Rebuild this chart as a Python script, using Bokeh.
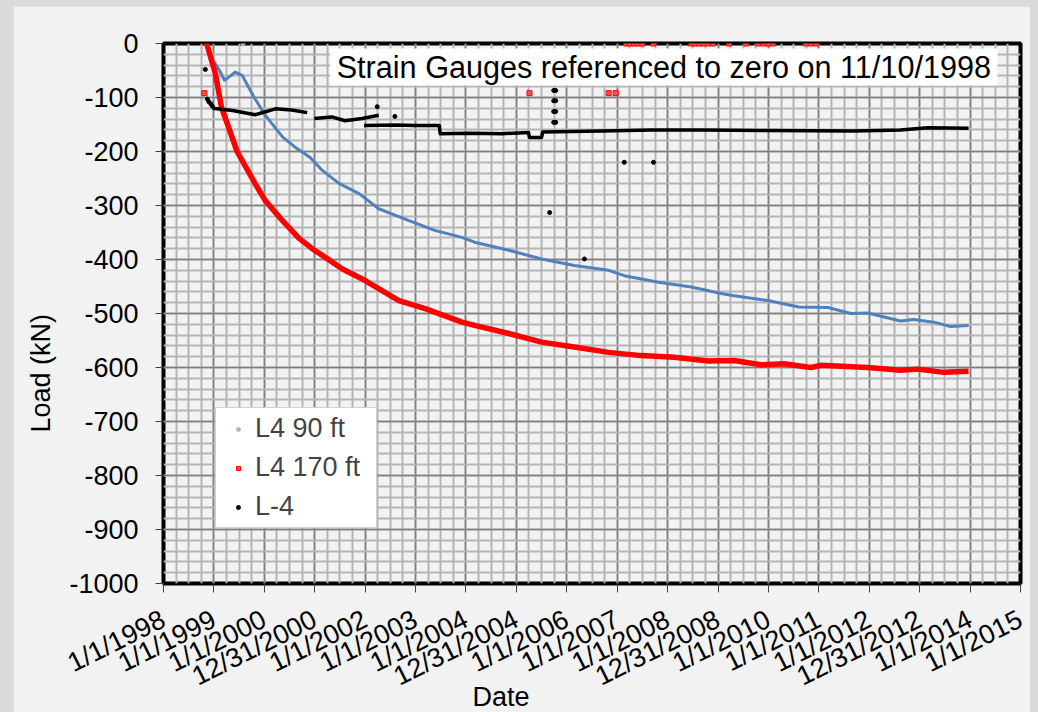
from bokeh.plotting import figure
from bokeh.models import FixedTicker, Label, Legend, LegendItem, BoxAnnotation, Title
from bokeh.layouts import column
from bokeh.embed import file_html
from bokeh.resources import INLINE

nan = float("nan")

# ---------------- data ----------------
x_tick_years = list(range(1998, 2016))
x_tick_labels = ["1/1/1998", "1/1/1999", "1/1/2000", "12/31/2000", "1/1/2002", "1/1/2003",
                 "1/1/2004", "12/31/2004", "1/1/2006", "1/1/2007", "1/1/2008", "12/31/2008",
                 "1/1/2010", "1/1/2011", "1/1/2012", "12/31/2012", "1/1/2014", "1/1/2015"]
y_ticks = [0, -100, -200, -300, -400, -500, -600, -700, -800, -900, -1000]
y_tick_labels = ["0", "-100", "-200", "-300", "-400", "-500", "-600", "-700", "-800", "-900", "-1000"]

# L4 90 ft (blue)
l4_90_year = [1999.01, 1999.11, 1999.21, 1999.33, 1999.42, 1999.56, 1999.80, 2000.02, 2000.36,
              2000.61, 2000.91, 2001.15, 2001.48, 2001.88, 2002.27, 2002.87, 2003.38, 2003.92,
              2004.17, 2004.85, 2005.50, 2006.15, 2006.83, 2007.14, 2007.82, 2008.47, 2009.06,
              2009.32, 2009.99, 2010.60, 2011.18, 2011.64, 2011.97, 2012.62, 2012.88, 2013.28,
              2013.61, 2013.97]
l4_90_load = [-35, -50, -68, -60, -53, -59, -100, -133, -173,
              -192, -211, -235, -259, -278, -306, -328, -346, -359,
              -368, -383, -399, -411, -420, -430, -442, -451, -463,
              -467, -476, -488, -489, -500, -499, -514, -511, -516,
              -524, -522]
l4_90_pt_year = [1999.58]
l4_90_pt_load = [0]

# L4 170 ft (red)
l4_170_year = [1998.81, 1999.03, 1999.15, 1999.46, 1999.82, 2000.02, 2000.36, 2000.69, 2000.95,
               2001.21, 2001.54, 2002.00, 2002.67, 2003.19, 2003.92, 2004.17, 2004.85, 2005.50,
               2006.15, 2006.83, 2007.48, 2008.13, 2008.81, 2009.32, 2009.85, 2010.31, 2010.84,
               2011.04, 2011.97, 2012.62, 2012.96, 2013.48, 2013.97]
l4_170_load = [15, -56, -118, -200, -260, -291, -328, -361, -380,
               -396, -417, -439, -476, -491, -516, -522, -537, -553,
               -562, -572, -578, -581, -588, -587, -595, -593, -600,
               -596, -600, -605, -603, -609, -607]
l4_170_pt_year = [1998.81, 2005.26, 2006.83, 2006.97, 2007.18, 2007.26, 2007.34, 2007.42, 2007.50,
                  2007.72, 2008.47, 2008.55, 2008.63, 2008.71, 2008.80, 2008.90, 2009.22, 2009.56,
                  2009.80, 2009.91, 2010.00, 2010.09, 2010.74, 2010.84, 2010.94]
l4_170_pt_load = [-92, -92, -92, -92, 0, 0, 0, 0, 0,
                  0, 0, 0, 0, 0, 0, 0, 0, 0,
                  0, 0, 0, 0, 0, 0, 0]

# L-4 (black)
l_4_year = [1998.97, 1999.37, 1999.82, 2000.22, 2000.54, 2000.85, nan,
            2000.99, 2001.34, 2001.60, 2001.94, 2002.27, nan,
            2001.98, 2002.60, 2003.00, 2003.47, 2003.49, 2004.07, 2004.72, 2005.24, 2005.26,
            2005.50, 2005.52, 2006.69, 2007.68, 2008.67, 2009.99, 2011.69, 2012.62, 2013.16, 2013.97]
l_4_load = [-120, -124, -132, -121, -123, -128, nan,
            -139, -136, -143, -139, -133, nan,
            -152, -151, -152, -152, -167, -166, -167, -165, -174,
            -174, -164, -162, -160, -160, -161, -162, -160, -156, -157]
l_4_pt_year = [1998.83, 1998.87, 1998.90, 1998.94, 1998.97, 2002.24, 2002.59,
               2005.74, 2005.76, 2005.78, 2005.74, 2005.76, 2005.78, 2005.74, 2005.76, 2005.78,
               2005.74, 2005.76, 2005.78, 2005.66, 2006.35, 2007.14, 2007.72]
l_4_pt_load = [-48, -103, -108, -112, -116, -117, -135,
               -87, -87, -87, -106, -106, -106, -126, -126, -126,
               -146, -146, -146, -313, -399, -220, -220]

FONT = "Liberation Sans"

p = figure(width=1017, height=706, x_range=(1998, 2015), y_range=(-1000, 0),
           output_backend="svg", toolbar_location=None,
           min_border_left=148, min_border_right=10, min_border_top=37, min_border_bottom=129,
           background_fill_color="#f2f2f2", border_fill_color="#f2f2f2")
p.margin = (6, 8, 0, 13)

# ticks & grid
p.xaxis.ticker = FixedTicker(ticks=x_tick_years,
                             minor_ticks=[1998 + i * 0.25 for i in range(69)])
p.xaxis.major_label_overrides = {y: l for y, l in zip(x_tick_years, x_tick_labels)}
p.yaxis.ticker = FixedTicker(ticks=y_ticks, minor_ticks=list(range(-1000, 1, 20)))
p.yaxis.major_label_overrides = {v: l for v, l in zip(y_ticks, y_tick_labels)}

for ax in (p.xaxis, p.yaxis):
    ax.axis_line_color = None
    ax.major_tick_line_color = "#404040"
    ax.major_tick_line_width = 1
    ax.major_tick_in = 0
    ax.minor_tick_line_color = None
    ax.major_label_text_font = FONT
    ax.major_label_text_font_size = "27px"
    ax.major_label_text_color = "black"
p.yaxis.major_tick_out = 8
p.yaxis.major_label_standoff = 17
p.xaxis.major_tick_out = 9
p.xaxis.major_label_standoff = 25
p.xaxis.major_label_orientation = 0.464

for g in (p.xgrid, p.ygrid):
    g.grid_line_color = "#7f7f7f"
    g.grid_line_width = 1.5
    g.minor_grid_line_color = "#b5b5b5"
    g.minor_grid_line_width = 2

p.outline_line_color = "black"
p.outline_line_width = 4

# series
p.line(l4_90_year, l4_90_load, line_color="#4f81bd", line_width=3, line_join="round")
p.line(l4_170_year, l4_170_load, line_color="#ff0000", line_width=5.5, line_join="round")
p.line(l_4_year, l_4_load, line_color="black", line_width=3.5, line_join="round")

r_blue = p.scatter(l4_90_pt_year, l4_90_pt_load, marker="circle", size=4,
                   fill_color="#9fb8e0", line_color="#9fb8e0")
r_red = p.scatter(l4_170_pt_year, l4_170_pt_load, marker="square", size=5,
                  fill_color="#ff5050", line_color="#ff0000", line_width=1)
r_black = p.scatter(l_4_pt_year, l_4_pt_load, marker="circle", size=4,
                    fill_color="black", line_color="black")

# title box
p.add_layout(BoxAnnotation(left=2001.305, right=2014.545, top=-9.3, bottom=-77.8,
                           fill_color="white", fill_alpha=1.0, line_color=None))
p.add_layout(Label(x=2007.925, y=-43.5, text="Strain Gauges referenced to zero on 11/10/1998",
                   text_align="center", text_baseline="middle", text_font=FONT,
                   text_font_size="30.6px", text_color="black"))

# axis titles
p.add_layout(Title(text="Load (kN)", align="left", offset=151, vertical_align="bottom",
                   standoff=21, text_font=FONT, text_font_size="27px",
                   text_font_style="normal", text_color="black"), "left")
p.add_layout(Title(text="Date", align="left", offset=309, vertical_align="top",
                   standoff=-52, text_font=FONT, text_font_size="27px",
                   text_font_style="normal", text_color="black"), "below")

legend = Legend(items=[LegendItem(label="L4 90 ft", renderers=[r_blue]),
                       LegendItem(label="L4 170 ft", renderers=[r_red]),
                       LegendItem(label="L-4", renderers=[r_black])],
                location=(52, 55), orientation="vertical",
                background_fill_color="white", background_fill_alpha=1.0,
                border_line_color="#a6a6a6", border_line_width=1,
                label_text_font=FONT, label_text_font_size="27px",
                padding=5, spacing=8, glyph_width=34, glyph_height=10,
                label_height=30, label_width=116, label_standoff=0, margin=0)
p.add_layout(legend)

layout = column(p, styles={"background-color": "#dbdbdb"})

open("out.html", "w").write(file_html(layout, INLINE))
